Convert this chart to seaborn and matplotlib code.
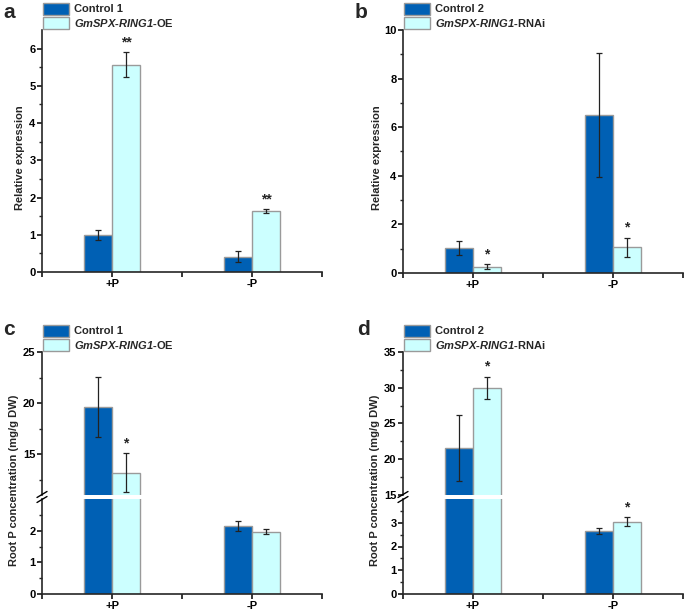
import numpy as np
import pandas as pd
import matplotlib
matplotlib.use("Agg")
import matplotlib.pyplot as plt
from matplotlib.lines import Line2D
from matplotlib.patches import Patch
import seaborn as sns

conditions = ["+P", "-P"]

# panel a: relative expression, OE line
a_ctrl = [1.00, 0.41]
a_ctrl_err = [0.14, 0.15]
a_oe = [5.57, 1.64]
a_oe_err = [0.33, 0.055]
a_stars = ["**", "**"]

# panel b: relative expression, RNAi line
b_ctrl = [1.03, 6.52]
b_ctrl_err = [0.30, 2.55]
b_rnai = [0.26, 1.06]
b_rnai_err = [0.10, 0.40]
b_stars = ["*", "*"]

# panel c: root P concentration, OE line
c_ctrl = [19.6, 2.15]
c_ctrl_err = [2.95, 0.16]
c_oe = [13.2, 1.97]
c_oe_err = [1.87, 0.09]
c_stars = ["*", ""]

# panel d: root P concentration, RNAi line
d_ctrl = [21.6, 2.66]
d_ctrl_err = [4.6, 0.12]
d_rnai = [30.0, 3.04]
d_rnai_err = [1.55, 0.19]
d_stars = ["*", "*"]

DARK = "#0060b4"
LIGHT = "#ccffff"
EDGE = "#9a9a9a"

sns.set_theme(style="ticks")
plt.rcParams["font.family"] = ["Liberation Sans", "DejaVu Sans"]
plt.rcParams["font.weight"] = "bold"
plt.rcParams["mathtext.fontset"] = "custom"
plt.rcParams["mathtext.bfit"] = "Liberation Sans:italic:bold"
plt.rcParams["mathtext.rm"] = "Liberation Sans:bold"

W, H = 685, 613
fig = plt.figure(figsize=(W / 100, H / 100), dpi=100)


def px_axes(left, right, top, bottom):
    return fig.add_axes([left / W, 1 - bottom / H, (right - left) / W, (bottom - top) / H])


def draw_bars(ax, ctrl, ctrl_err, trt, trt_err, stars):
    df = pd.DataFrame({
        "cond": conditions * 2,
        "val": ctrl + trt,
        "line": ["ctrl"] * 2 + ["trt"] * 2,
    })
    sns.barplot(data=df, x="cond", y="val", hue="line", order=conditions,
                palette=[DARK, LIGHT], saturation=1, width=0.4, edgecolor=EDGE,
                linewidth=1.0, errorbar=None, legend=False, ax=ax)
    for cont, err, st in zip(ax.containers, [ctrl_err, trt_err], [None, stars]):
        xs = [p.get_x() + p.get_width() / 2 for p in cont.patches]
        hs = [p.get_height() for p in cont.patches]
        ax.errorbar(xs, hs, yerr=err, fmt="none", ecolor="#222222", elinewidth=0.9,
                    capsize=2.2, capthick=0.9, zorder=5)
        if st is not None:
            for x, h, e, s in zip(xs, hs, err, st):
                if s and ax.get_ylim()[0] <= h + e <= ax.get_ylim()[1]:
                    ax.annotate(s, (x, h + e), xytext=(0, 2), textcoords="offset points",
                                ha="center", va="bottom", fontsize=10, fontweight="bold")
    ax.set_xlim(-0.5, 1.5)
    ax.set_xlabel("")
    ax.set_ylabel("")


def style(ax, bottom=True):
    for s in ["right", "top"]:
        ax.spines[s].set_visible(False)
    ax.spines["left"].set_linewidth(1.2)
    ax.spines["bottom"].set_linewidth(1.2)
    ax.tick_params(axis="both", which="major", direction="out", length=3.5, width=1.1,
                   labelsize=8, pad=1.2, colors="black")
    ax.tick_params(axis="y", which="minor", direction="out", length=2, width=1.0)
    if bottom:
        ax.set_xticks([-0.5, 0, 0.5, 1, 1.5], ["", "+P", "", "-P", ""])
        ax.tick_params(axis="x", labelsize=8, pad=1.2)
    else:
        ax.spines["bottom"].set_visible(False)
        ax.set_xticks([])
    for lab in ax.get_xticklabels() + ax.get_yticklabels():
        lab.set_fontweight("bold")


def add_legend(ax, label1, label2):
    handles = [Patch(facecolor=DARK, edgecolor=EDGE, linewidth=1.0),
               Patch(facecolor=LIGHT, edgecolor=EDGE, linewidth=1.0)]
    ax.legend(handles, [label1, label2], loc="lower left", bbox_to_anchor=(0, 1.0),
              borderaxespad=0, frameon=False, handlelength=2.3,
              handleheight=1.25, labelspacing=0.2, handletextpad=0.5, borderpad=0.1,
              prop={"weight": "bold", "size": 8})


def break_marks(ax_low):
    for dy in (-2.5, 2.5):
        x0 = ax_low.get_position().x0
        y0 = ax_low.get_position().y1 + 2 / H + dy / H
        fig.add_artist(Line2D([x0 - 5 / W, x0 + 5 / W], [y0 - 3 / H, y0 + 3 / H],
                              color="black", lw=1.0))


oe_label = r"$\mathbfit{GmSPX}$-$\mathbfit{RING1}$-OE"
rnai_label = r"$\mathbfit{GmSPX}$-$\mathbfit{RING1}$-RNAi"

# panel a
ax_a = px_axes(42, 322, 30, 272)
ax_a.set_ylim(0, 6.5)
draw_bars(ax_a, a_ctrl, a_ctrl_err, a_oe, a_oe_err, a_stars)
ax_a.set_yticks(range(0, 7))
ax_a.set_yticks(np.arange(0.5, 6.5, 1), minor=True)
style(ax_a)
add_legend(ax_a, "Control 1", oe_label)

# panel b
ax_b = px_axes(403, 683, 30, 273)
ax_b.set_ylim(0, 10)
draw_bars(ax_b, b_ctrl, b_ctrl_err, b_rnai, b_rnai_err, b_stars)
ax_b.set_yticks(range(0, 11, 2))
ax_b.set_yticks(range(1, 10, 2), minor=True)
style(ax_b)
add_legend(ax_b, "Control 2", rnai_label)

# panel c (broken axis)
ax_cu = px_axes(42, 322, 352, 495)
ax_cl = px_axes(42, 322, 499, 594)
ax_cu.set_ylim(11, 25)
ax_cl.set_ylim(0, 3)
draw_bars(ax_cu, c_ctrl, c_ctrl_err, c_oe, c_oe_err, c_stars)
draw_bars(ax_cl, c_ctrl, c_ctrl_err, c_oe, c_oe_err, c_stars)
ax_cu.set_yticks([15, 20, 25])
ax_cu.set_yticks([12.5, 17.5, 22.5], minor=True)
ax_cl.set_yticks([0, 1, 2])
ax_cl.set_yticks([0.5, 1.5, 2.5], minor=True)
style(ax_cu, bottom=False)
style(ax_cl)
add_legend(ax_cu, "Control 1", oe_label)
break_marks(ax_cl)

# panel d (broken axis)
ax_du = px_axes(403, 683, 352, 495)
ax_dl = px_axes(403, 683, 499, 594)
ax_du.set_ylim(15, 35)
ax_dl.set_ylim(0, 4)
draw_bars(ax_du, d_ctrl, d_ctrl_err, d_rnai, d_rnai_err, d_stars)
draw_bars(ax_dl, d_ctrl, d_ctrl_err, d_rnai, d_rnai_err, d_stars)
ax_du.set_yticks([15, 20, 25, 30, 35])
ax_du.set_yticks([17.5, 22.5, 27.5, 32.5], minor=True)
ax_dl.set_yticks([0, 1, 2, 3])
ax_dl.set_yticks([0.5, 1.5, 2.5, 3.5], minor=True)
style(ax_du, bottom=False)
style(ax_dl)
add_legend(ax_du, "Control 2", rnai_label)
break_marks(ax_dl)

# axis titles
for x, y, s in [(20, 158, "Relative expression"), (377, 158, "Relative expression"),
                (14, 480, "Root P concentration (mg/g DW)"),
                (375, 480, "Root P concentration (mg/g DW)")]:
    fig.text(x / W, 1 - y / H, s, rotation=90, ha="center", va="center",
             fontsize=8, fontweight="bold")

# panel letters
for x, y, s in [(3, 18, "a"), (355, 18, "b"), (3, 335, "c"), (357, 335, "d")]:
    fig.text(x / W, 1 - y / H, s, fontsize=15, fontweight="bold", va="baseline", ha="left")

fig.savefig("out.png", dpi=100)
